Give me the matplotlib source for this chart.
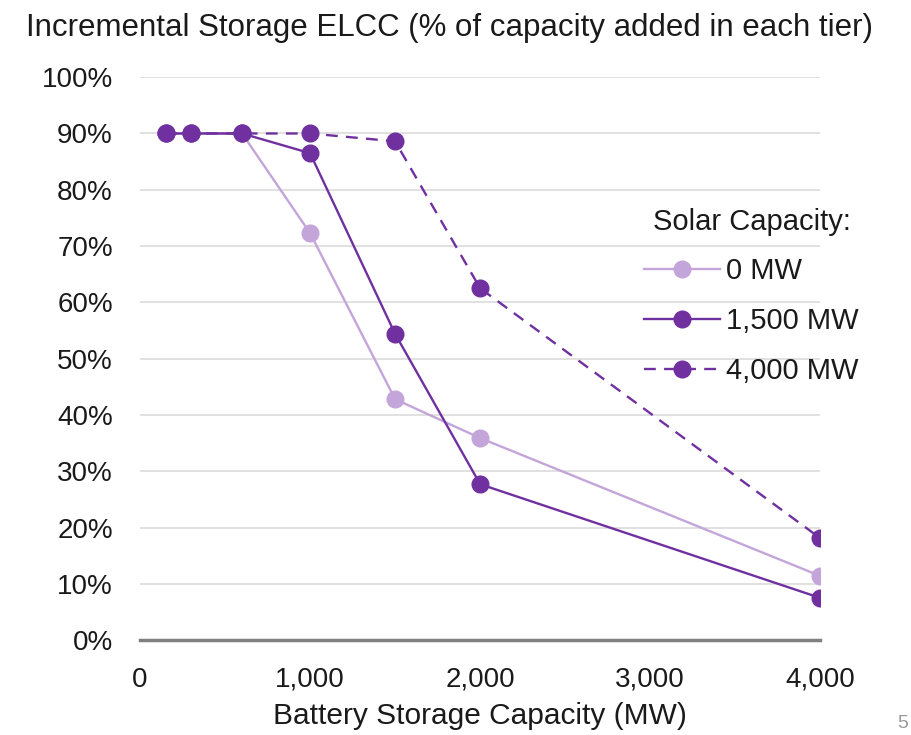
import matplotlib
matplotlib.use("Agg")
import matplotlib.pyplot as plt
from matplotlib.ticker import FuncFormatter

plt.rcParams["font.family"] = ["Liberation Sans", "DejaVu Sans"]

# data
storage_mw = [150, 300, 600, 1000, 1500, 2000, 4000]
elcc_0mw = [90, 90, 90, 72.3, 42.8, 35.9, 11.4]
elcc_1500mw = [90, 90, 90, 86.5, 54.4, 27.7, 7.5]
elcc_4000mw = [90, 90, 90, 90, 88.6, 62.5, 18.1]
labels = ["0 MW", "1,500 MW", "4,000 MW"]

LIGHT = "#C3A5DA"
DARK = "#7030A0"
TXT = "#1A1A1A"
FS = 21

fig = plt.figure(figsize=(9.12, 7.35), dpi=100)
ax = fig.add_axes([0.1535, 0.129, 0.746, 0.766])

ax.plot(storage_mw, elcc_0mw, color=LIGHT, lw=1.7, marker="o", ms=12, label=labels[0], zorder=3)
ax.plot(storage_mw, elcc_4000mw, color=DARK, lw=1.7, ls=(0, (5, 3.5)), marker="o", ms=12, label=labels[2], zorder=4)
ax.plot(storage_mw, elcc_1500mw, color=DARK, lw=1.7, marker="o", ms=12, label=labels[1], zorder=5)

ax.set_xlim(0, 4000)
ax.set_ylim(0, 100)
ax.set_xticks([0, 1000, 2000, 3000, 4000])
ax.set_yticks(range(0, 101, 10))
ax.xaxis.set_major_formatter(FuncFormatter(lambda v, p: f"{int(v):,}"))
ax.yaxis.set_major_formatter(FuncFormatter(lambda v, p: f"{int(v)}%"))
ax.grid(axis="y", color="#DCDCDC", lw=1.2)
ax.set_axisbelow(True)
for s in ["top", "right", "left"]:
    ax.spines[s].set_visible(False)
ax.spines["bottom"].set_color("#808080")
ax.spines["bottom"].set_linewidth(2.5)
ax.spines["bottom"].set_zorder(2)
ax.tick_params(length=0, labelsize=FS - 1, colors=TXT)
ax.tick_params(axis="x", pad=19)
ax.tick_params(axis="y", pad=19.5)
ax.set_xlabel("Battery Storage Capacity (MW)", fontsize=FS + 0.5, color=TXT, labelpad=7)

h, l = ax.get_legend_handles_labels()
order = [l.index(x) for x in labels]
leg = ax.legend([h[i] for i in order], [l[i] for i in order], title="Solar Capacity:",
                frameon=False, fontsize=FS, title_fontsize=FS, handlelength=2.6,
                handletextpad=0.2, labelspacing=0.75, loc="upper right",
                bbox_to_anchor=(1.095, 0.815))
leg.get_title().set_color(TXT)
for t in leg.get_texts():
    t.set_color(TXT)

fig.text(0.028, 0.962, "Incremental Storage ELCC (% of capacity added in each tier)",
         fontsize=FS + 1.5, color=TXT, va="center", ha="left")
fig.text(0.984, 0.004, "5", fontsize=14, color="#999999", va="bottom", ha="left")

fig.savefig("out.png", dpi=100, facecolor="white")
